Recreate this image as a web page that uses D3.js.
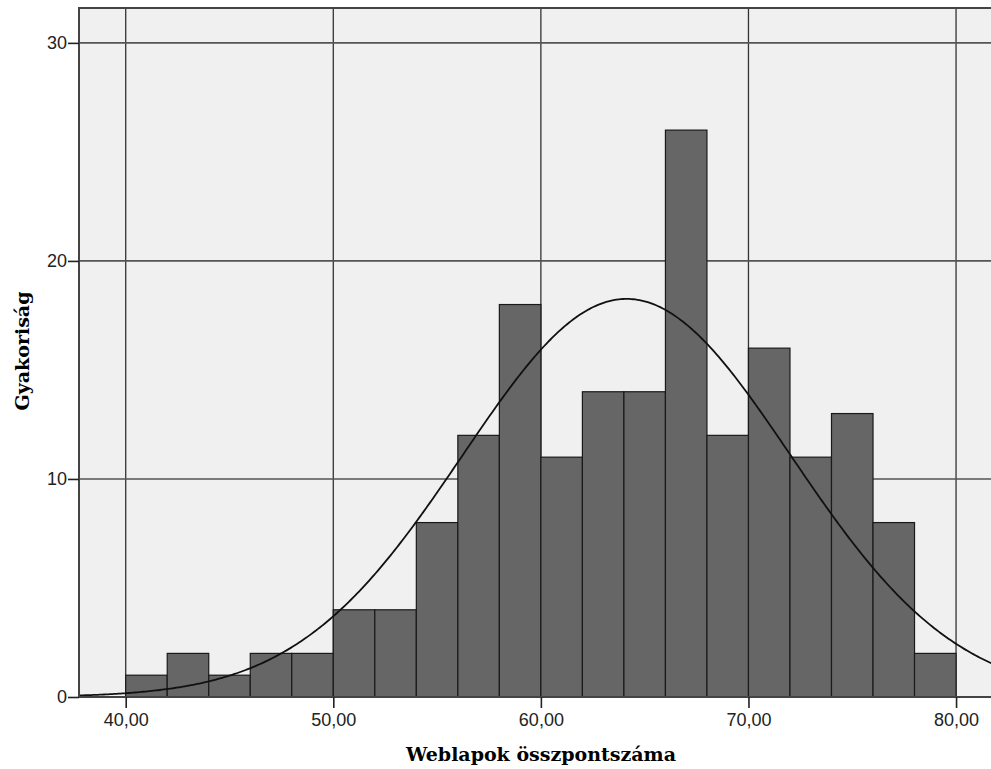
<!DOCTYPE html>
<html>
<head>
<meta charset="utf-8">
<script src="https://cdn.jsdelivr.net/npm/d3@7"></script>
<style>
  body { margin: 0; background: #fff; }
  svg { display: block; }
</style>
</head>
<body>
<svg width="991" height="769"></svg>
<script>
// histogram bins (lower edge) and counts
var binStarts = [40, 42, 44, 46, 48, 50, 52, 54, 56, 58, 60, 62, 64, 66, 68, 70, 72, 74, 76, 78];
var counts = [1, 2, 1, 2, 2, 4, 4, 8, 12, 18, 11, 14, 14, 26, 12, 16, 11, 13, 8, 2];
var binWidth = 2;
var xTicks = [40, 50, 60, 70, 80];
var yTicks = [0, 10, 20, 30];
// fitted normal curve
var mean = 64.13, sd = 7.91;

function draw() {
    var svg = d3.select("svg");
    var pLeft = 79, pTop = 8, pRight = 993, pBottom = 697;

    var n = d3.sum(counts);
    var xScale = d3.scaleLinear().domain([37.75, 81.78]).range([pLeft, pRight]);
    var yScale = d3.scaleLinear().domain([0, 31.6]).range([pBottom, pTop]);

    var g = svg.append("g");

    g.append("rect")
        .attr("x", pLeft).attr("y", pTop)
        .attr("width", pRight - pLeft).attr("height", pBottom - pTop)
        .attr("fill", "#f0f0f0");

    // grid
    g.selectAll(".vgrid").data(xTicks).enter().append("line")
        .attr("x1", d => xScale(d)).attr("x2", d => xScale(d))
        .attr("y1", pTop).attr("y2", pBottom)
        .attr("stroke", "#333").attr("stroke-width", 1.3);
    g.selectAll(".hgrid").data(yTicks.filter(d => d > 0)).enter().append("line")
        .attr("x1", pLeft).attr("x2", pRight)
        .attr("y1", d => yScale(d)).attr("y2", d => yScale(d))
        .attr("stroke", "#555").attr("stroke-width", 1.6);

    // bars
    g.selectAll(".bar").data(binStarts).enter().append("rect")
        .attr("class", "bar")
        .attr("x", d => xScale(d))
        .attr("y", (d, i) => yScale(counts[i]))
        .attr("width", xScale(binStarts[0] + binWidth) - xScale(binStarts[0]))
        .attr("height", (d, i) => pBottom - yScale(counts[i]))
        .attr("fill", "#666666")
        .attr("stroke", "#1a1a1a")
        .attr("stroke-width", 1.2);

    // normal curve
    var xs = d3.range(37.75, 81.8, 0.1);
    var line = d3.line()
        .x(d => xScale(d))
        .y(d => yScale(n * binWidth * Math.exp(-0.5 * Math.pow((d - mean) / sd, 2)) / (sd * Math.sqrt(2 * Math.PI))));
    g.append("path")
        .datum(xs)
        .attr("d", line)
        .attr("fill", "none")
        .attr("stroke", "#111")
        .attr("stroke-width", 1.8);

    // frame
    g.append("rect")
        .attr("x", pLeft).attr("y", pTop)
        .attr("width", pRight - pLeft).attr("height", pBottom - pTop)
        .attr("fill", "none")
        .attr("stroke", "#444").attr("stroke-width", 2);

    // axes
    var xAxis = g.append("g")
        .attr("transform", "translate(0," + pBottom + ")")
        .call(d3.axisBottom(xScale).tickValues(xTicks).tickSize(11).tickPadding(5)
            .tickFormat(d => d3.format(".2f")(d).replace(".", ",")));
    var yAxis = g.append("g")
        .attr("transform", "translate(" + pLeft + ",0)")
        .call(d3.axisLeft(yScale).tickValues(yTicks).tickSize(11).tickPadding(1).tickFormat(d3.format("d")));

    [xAxis, yAxis].forEach(function (a) {
        a.select(".domain").remove();
        a.selectAll(".tick line").attr("stroke", "#222").attr("stroke-width", 1.6);
        a.selectAll(".tick text")
            .attr("fill", "#222")
            .style("font-family", "'Liberation Sans', Arial, sans-serif")
            .style("font-size", "18px");
    });

    svg.append("text")
        .attr("x", 541).attr("y", 761)
        .attr("text-anchor", "middle")
        .style("font-family", "'DejaVu Serif', serif")
        .style("font-weight", "bold")
        .style("font-size", "19px")
        .text("Weblapok összpontszáma");

    svg.append("text")
        .attr("transform", "translate(29,351) rotate(-90)")
        .attr("text-anchor", "middle")
        .style("font-family", "'DejaVu Serif', serif")
        .style("font-weight", "bold")
        .style("font-size", "19px")
        .text("Gyakoriság");
}

draw();
</script>
</body>
</html>
